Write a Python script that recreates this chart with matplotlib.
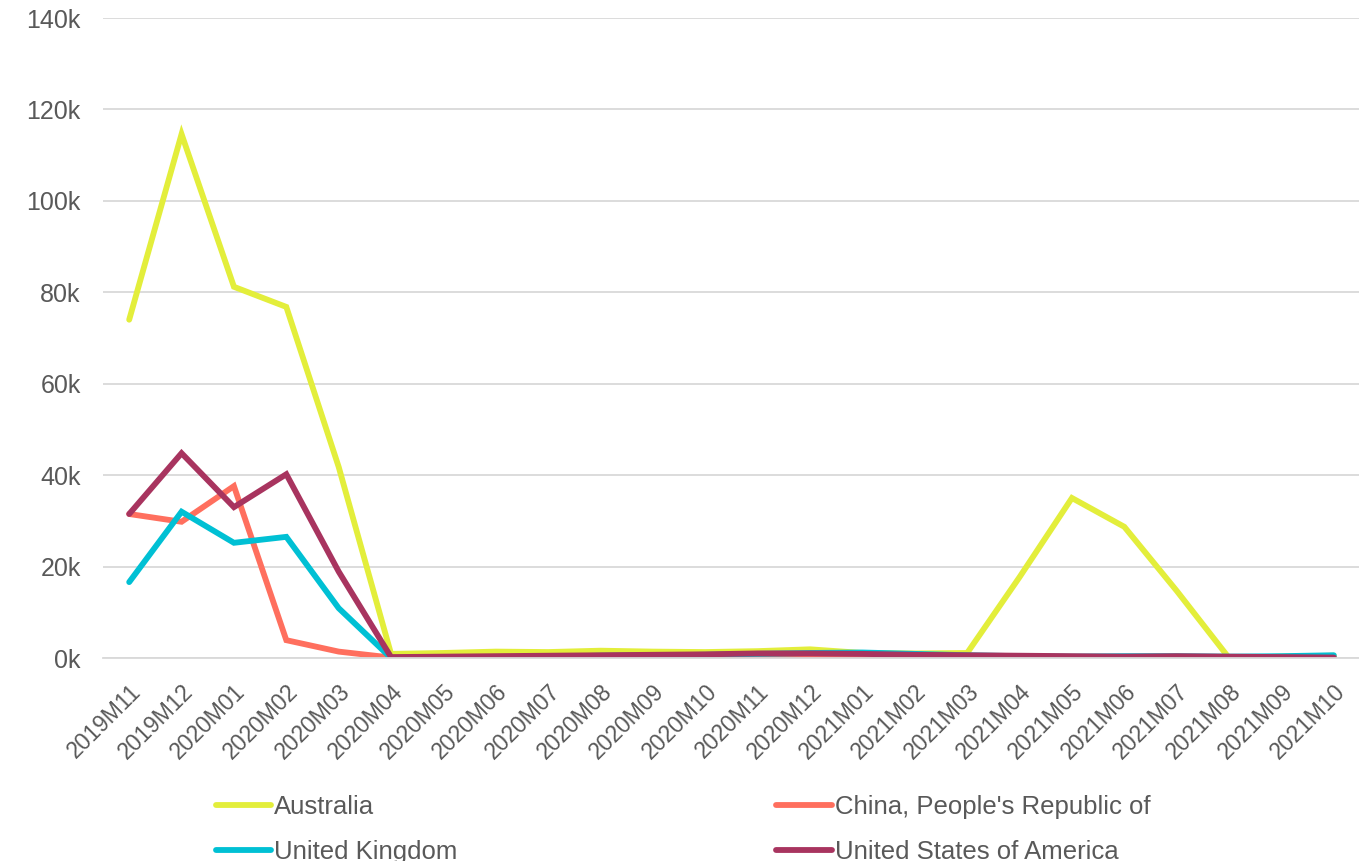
import matplotlib
matplotlib.use("Agg")
import matplotlib.pyplot as plt
from matplotlib.ticker import FuncFormatter

months = ["2019M11", "2019M12", "2020M01", "2020M02", "2020M03", "2020M04",
          "2020M05", "2020M06", "2020M07", "2020M08", "2020M09", "2020M10",
          "2020M11", "2020M12", "2021M01", "2021M02", "2021M03", "2021M04",
          "2021M05", "2021M06", "2021M07", "2021M08", "2021M09", "2021M10"]

# arrivals, thousands
australia = [74.0, 114.6, 81.2, 76.8, 41.8, 0.9, 1.1, 1.4, 1.3, 1.6, 1.4, 1.3,
             1.5, 1.9, 1.1, 1.0, 1.1, 17.7, 35.0, 28.7, 14.7, 0.0, 0.3, 0.5]
china = [31.5, 29.8, 37.6, 3.9, 1.4, 0.1, 0.1, 0.1, 0.2, 0.2, 0.2, 0.2,
         0.2, 0.3, 0.2, 0.2, 0.2, 0.2, 0.2, 0.2, 0.2, 0.1, 0.1, 0.1]
uk = [16.6, 32.0, 25.2, 26.5, 10.9, 0.0, 0.1, 0.2, 0.3, 0.5, 0.6, 0.7,
      0.9, 1.1, 1.2, 0.9, 0.6, 0.4, 0.3, 0.4, 0.4, 0.3, 0.4, 0.6]
usa = [31.5, 44.8, 33.0, 40.2, 18.9, 0.2, 0.3, 0.4, 0.5, 0.6, 0.7, 0.8,
       1.0, 1.0, 0.9, 0.7, 0.6, 0.5, 0.4, 0.3, 0.4, 0.3, 0.2, 0.1]

series = [("Australia", australia, "#E3EE3B"),
          ("China, People's Republic of", china, "#FF6F5E"),
          ("United Kingdom", uk, "#00C0D4"),
          ("United States of America", usa, "#A8345F")]

FONT = "Liberation Sans"
GREY = "#595959"

fig = plt.figure(figsize=(13.59, 8.61), dpi=100)
ax = fig.add_axes([103 / 1359, 203 / 861, 1257 / 1359, 640 / 861])

x = list(range(len(months)))
lines = {}
for name, vals, col in series:
    lines[name], = ax.plot(x, [v * 1000 for v in vals], color=col, lw=4.2,
                           solid_joinstyle="miter", solid_capstyle="round", label=name)

ax.set_xlim(-0.5, len(months) - 0.5)
ax.set_ylim(0, 140000)
ax.set_yticks(range(0, 140001, 20000))
ax.yaxis.set_major_formatter(FuncFormatter(lambda v, p: f"{int(v / 1000)}k"))
ax.set_xticks(x)
ax.set_xticklabels(months, rotation=45, ha="right", rotation_mode="anchor")
ax.grid(axis="y", color="#D9D9D9", lw=1.3)
ax.set_axisbelow(True)
for s in ax.spines.values():
    s.set_visible(False)
ax.spines["bottom"].set_visible(True)
ax.spines["bottom"].set_color("#D9D9D9")
ax.spines["bottom"].set_linewidth(1.3)
ax.tick_params(length=0, colors=GREY)
ax.tick_params(axis="y", pad=16, labelsize=18)
ax.tick_params(axis="x", pad=16, labelsize=16.5)
for t in ax.get_xticklabels() + ax.get_yticklabels():
    t.set_fontfamily(FONT)

order = ["Australia", "United Kingdom", "China, People's Republic of", "United States of America"]
fig.legend([lines[n] for n in order], order, ncol=2, loc="upper left",
           bbox_to_anchor=(193 / 1359, 1 - 772 / 861), frameon=False,
           prop={"family": FONT, "size": 18.5},
           labelcolor=GREY, handlelength=2.15, handletextpad=0.12,
           columnspacing=12.4, labelspacing=0.8)

fig.savefig("out.png", dpi=100)
